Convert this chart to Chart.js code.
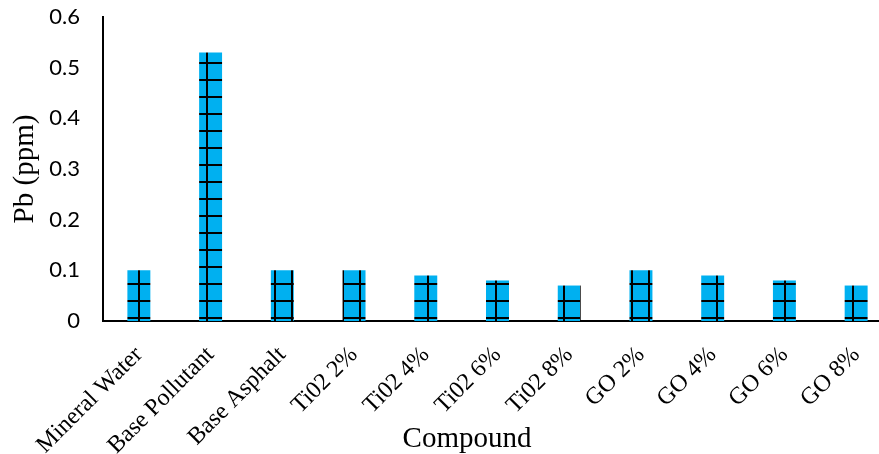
<!DOCTYPE html>
<html>
<head>
<meta charset="utf-8">
<script src="https://cdn.jsdelivr.net/npm/chart.js@4.4.0/dist/chart.umd.min.js"></script>
<style>
  html, body { margin: 0; padding: 0; background: #fff; width: 879px; height: 454px; overflow: hidden; }
  /* plot runs a little past the right edge in the original, so the canvas is wider than the window */
  #wrap { width: 892px; height: 454px; position: relative; }
</style>
</head>
<body>
<div id="wrap"><canvas id="chart"></canvas></div>
<script>
const compounds = ['Mineral Water', 'Base Pollutant', 'Base Asphalt', 'Ti02 2%', 'Ti02 4%', 'Ti02 6%', 'Ti02 8%', 'GO 2%', 'GO 4%', 'GO 6%', 'GO 8%'];
const pbValues = [0.1, 0.53, 0.1, 0.1, 0.09, 0.08, 0.07, 0.1, 0.09, 0.08, 0.07];
const yTicks = [0, 0.1, 0.2, 0.3, 0.4, 0.5, 0.6];

const canvas = document.getElementById('chart');

// blue fill with a black square grid, like the excel "large grid" pattern
function gridPattern() {
  const tile = document.createElement('canvas');
  tile.width = 17;
  tile.height = 17;
  const g = tile.getContext('2d');
  g.fillStyle = '#00B0F0';
  g.fillRect(0, 0, 17, 17);
  g.fillStyle = '#000';
  g.fillRect(2, 0, 2, 17);
  g.fillRect(0, 11, 17, 2);
  return canvas.getContext('2d').createPattern(tile, 'repeat');
}

// x title is not centred on the plot area in the original
const xTitle = {
  id: 'xTitle',
  afterDraw(chart) {
    const ctx = chart.ctx;
    ctx.save();
    ctx.font = '29px "Liberation Serif", "Times New Roman", serif';
    ctx.fillStyle = '#000';
    ctx.textAlign = 'center';
    ctx.textBaseline = 'alphabetic';
    ctx.fillText('Compound', 467, 447);
    ctx.restore();
  }
};

new Chart(canvas, {
  type: 'bar',
  data: {
    labels: compounds,
    datasets: [{
      label: 'Pb (ppm)',
      data: pbValues,
      backgroundColor: gridPattern(),
      borderWidth: 0,
      barPercentage: 0.32,
      categoryPercentage: 1
    }]
  },
  options: {
    responsive: true,
    maintainAspectRatio: false,
    animation: false,
    layout: { padding: { top: 17, right: 0, bottom: 0, left: 0 } },
    plugins: { legend: { display: false }, tooltip: { enabled: false } },
    scales: {
      x: {
        grid: { display: false, drawTicks: false },
        border: { display: true, color: '#000', width: 2 },
        ticks: {
          autoSkip: false,
          maxRotation: 45,
          minRotation: 45,
          padding: 20,
          color: '#000',
          font: { family: '"Liberation Serif", "Times New Roman", serif', size: 24 }
        },
        afterFit(s) {
          s.height = 133;
          s.paddingLeft = 0;
          s.paddingRight = 0;
        }
      },
      y: {
        min: 0,
        max: 0.6,
        grid: { display: false, drawTicks: false },
        border: { display: true, color: '#000', width: 2 },
        afterBuildTicks(s) {
          s.ticks = yTicks.map(v => ({ value: v }));
        },
        ticks: {
          padding: 23,
          color: '#000',
          font: { family: 'Lato, "Open Sans", sans-serif', size: 22 },
          callback: v => String(v)
        },
        title: {
          display: true,
          text: 'Pb (ppm)',
          color: '#000',
          padding: { top: 8, bottom: 0 },
          font: { family: '"Liberation Serif", "Times New Roman", serif', size: 29 }
        },
        afterFit(s) {
          s.width = 103;
          s.paddingTop = 0;
          s.paddingBottom = 0;
        }
      }
    }
  },
  plugins: [xTitle]
});
</script>
</body>
</html>
